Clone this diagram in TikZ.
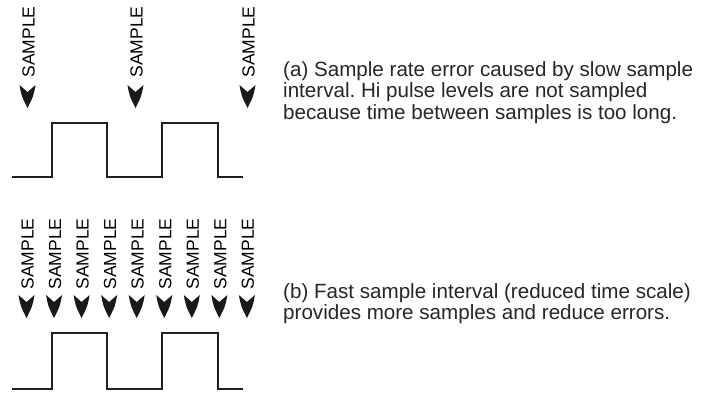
\documentclass[tikz,border=0pt]{standalone}
\usepackage{fontspec}
\setmainfont{Liberation Sans}
\begin{document}
\frenchspacing
\begin{tikzpicture}[x=1pt,y=-1pt,
  samplelbl/.style={rotate=90,inner sep=0pt,font=\fontsize{17.5}{18}\selectfont},
  wave/.style={line width=2pt,color=black!88,line join=miter},
  caption/.style={anchor=north west,align=left,inner sep=0pt,font=\fontsize{20.6}{21.5}\selectfont,text=black!85}]
\useasboundingbox (0,0) rectangle (709,392);
% arrowhead pic
\tikzset{tip/.pic={\fill[black!90] (-8,-11) .. controls (-6,0) .. (0,12) .. controls (6,0) .. (8,-11) -- (0,-4) -- cycle;}}
% top panel
\foreach \i/\x in {1/27.5,2/135.5,3/247.5}{
  \node[samplelbl] (ta\i) at (\x+1,42) {SAMPLE};
  \pic at (\x,96) {tip};
}
\draw[wave] (12,177) -- (52,177) -- (52,123) -- (107,123) -- (107,177) -- (162,177) -- (162,123) -- (218,123) -- (218,177) -- (243,177);
\node[caption] (capa) at (283,61) {(a) Sample rate error caused by slow sample\\interval. Hi pulse levels are not sampled\\because time between samples is too long.};
% bottom panel
\foreach \i in {0,...,8}{
  \pgfmathsetmacro{\xx}{26.5+27.55*\i}
  \node[samplelbl] (tb\i) at (\xx+1,254) {SAMPLE};
  \pic at (\xx,306) {tip};
}
\draw[wave] (12,389) -- (52,389) -- (52,333) -- (107,333) -- (107,389) -- (162,389) -- (162,333) -- (218,333) -- (218,389) -- (243,389);
\node[caption] (capb) at (283,283) {(b) Fast sample interval (reduced time scale)\\provides more samples and reduce errors.};
\end{tikzpicture}
\end{document}
